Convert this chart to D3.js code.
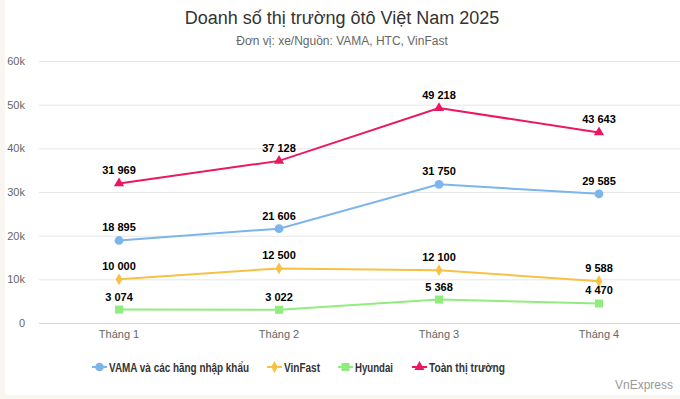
<!DOCTYPE html>
<html>
<head>
<meta charset="utf-8">
<script src="https://cdn.jsdelivr.net/npm/d3@7"></script>
<style>
  body { margin: 0; background: #f9f6f1; }
  svg { display: block; font-family: "Liberation Sans", Arial, sans-serif; }
</style>
</head>
<body>
<div id="chart"></div>
<script>
var months = ["Tháng 1", "Tháng 2", "Tháng 3", "Tháng 4"];
var vama = [18895, 21606, 31750, 29585];
var vinfast = [10000, 12500, 12100, 9588];
var hyundai = [3074, 3022, 5368, 4470];
var total = [31969, 37128, 49218, 43643];
var yTicks = [0, 10000, 20000, 30000, 40000, 50000, 60000];

var series = [
    {name: "VAMA và các hãng nhập khẩu", values: vama, color: "#7cb5ec", symbol: d3.symbolCircle, size: 60},
    {name: "VinFast", values: vinfast, color: "#f7c144", symbol: d3.symbolDiamond, size: 40},
    {name: "Hyundai", values: hyundai, color: "#90ed7d", symbol: d3.symbolSquare, size: 64},
    {name: "Toàn thị trường", values: total, color: "#ec1763", symbol: d3.symbolTriangle, size: 45}
];

function init() {
    var w = 680;
    var h = 399;

    var svg = d3.select("#chart")
                .append("svg")
                .attr("width", w)
                .attr("height", h);

    //white chart card
    svg.append("rect")
        .attr("x", 5).attr("y", 0)
        .attr("width", w - 5).attr("height", 395)
        .attr("fill", "#fff");

    //title
    svg.append("text")
        .attr("x", 342).attr("y", 24)
        .attr("text-anchor", "middle")
        .attr("font-size", 18)
        .attr("fill", "#333")
        .text("Doanh số thị trường ôtô Việt Nam 2025");
    svg.append("text")
        .attr("x", 342).attr("y", 45)
        .attr("text-anchor", "middle")
        .attr("font-size", 12)
        .attr("fill", "#666")
        .text("Đơn vị: xe/Nguồn: VAMA, HTC, VinFast");

    var x = d3.scaleBand()
                .domain(months)
                .range([39, 679]);
    var y = d3.scaleLinear()
                .domain([0, 60000])
                .range([323, 61]);

    //grid
    svg.append("g")
        .selectAll("line")
        .data(yTicks)
        .enter()
        .append("line")
        .attr("x1", 39).attr("x2", 680)
        .attr("y1", function(d){ return y(d) + 0.5; })
        .attr("y2", function(d){ return y(d) + 0.5; })
        .attr("stroke", function(d){ return d === 0 ? "#ccd6eb" : "#e6e6e6"; })
        .attr("stroke-width", 1);

    //y axis
    var yAxis = d3.axisLeft(y)
                    .tickValues(yTicks)
                    .tickSize(0)
                    .tickPadding(0)
                    .tickFormat(function(d){ return d === 0 ? "0" : (d / 1000) + "k"; });
    var gy = svg.append("g").attr("transform", "translate(25,0)").call(yAxis);
    gy.select(".domain").remove();
    gy.selectAll("text").attr("font-size", 11).attr("fill", "#666")
        .attr("font-family", "Liberation Sans, Arial, sans-serif").attr("dy", "0.32em");

    //x axis
    var xAxis = d3.axisBottom(x).tickSize(0).tickPadding(0);
    var gx = svg.append("g").attr("transform", "translate(0,330)").call(xAxis);
    gx.select(".domain").remove();
    gx.selectAll("text").attr("font-size", 11).attr("fill", "#666")
        .attr("font-family", "Liberation Sans, Arial, sans-serif");

    var cx = function(i){ return x(months[i]) + x.bandwidth() / 2; };

    var line = d3.line()
                .x(function(d, i){ return cx(i); })
                .y(function(d){ return y(d); });

    var fmt = function(v){ return d3.format(",")(v).replace(/,/g, " "); };

    series.forEach(function(s){
        var g = svg.append("g");
        g.append("path")
            .attr("d", line(s.values))
            .attr("fill", "none")
            .attr("stroke", s.color)
            .attr("stroke-width", 2);
        g.selectAll("path.pt")
            .data(s.values)
            .enter()
            .append("path")
            .attr("class", "pt")
            .attr("d", d3.symbol().type(s.symbol).size(s.size))
            .attr("transform", function(d, i){ return "translate(" + cx(i) + "," + y(d) + ")"; })
            .attr("fill", s.color);
        g.selectAll("text")
            .data(s.values)
            .enter()
            .append("text")
            .attr("x", function(d, i){ return cx(i); })
            .attr("y", function(d){ return y(d) - 9; })
            .attr("text-anchor", "middle")
            .attr("font-size", 11)
            .attr("font-weight", "bold")
            .attr("fill", "#000")
            .text(function(d){ return fmt(d); });
    });

    //legend
    var legendX = [92, 267, 338, 412];
    var legendW = [140, 36, 38, 76];
    var lg = svg.append("g").selectAll("g")
                .data(series)
                .enter()
                .append("g")
                .attr("transform", function(d, i){ return "translate(" + legendX[i] + ",367)"; });
    lg.append("line")
        .attr("x1", 0).attr("x2", 15)
        .attr("stroke", function(d){ return d.color; })
        .attr("stroke-width", 2);
    lg.append("path")
        .attr("d", function(d){ return d3.symbol().type(d.symbol).size(d.size)(); })
        .attr("transform", "translate(7.5,0)")
        .attr("fill", function(d){ return d.color; });
    lg.append("text")
        .attr("x", 17).attr("y", 4.5)
        .attr("font-size", 12)
        .attr("font-weight", "bold")
        .attr("fill", "#333")
        .attr("textLength", function(d, i){ return legendW[i]; })
        .attr("lengthAdjust", "spacingAndGlyphs")
        .text(function(d){ return d.name; });

    svg.append("text")
        .attr("x", 673).attr("y", 389)
        .attr("text-anchor", "end")
        .attr("font-size", 12)
        .attr("fill", "#999")
        .text("VnExpress");
}

window.onload = init;
</script>
</body>
</html>
